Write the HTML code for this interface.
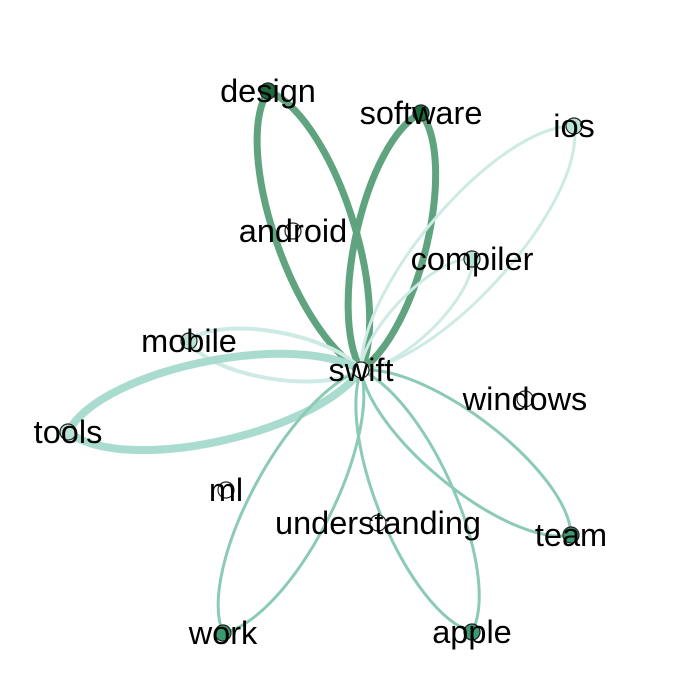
<!DOCTYPE html>
<html><head><meta charset="utf-8"><style>
body{margin:0;background:#fff}
text{font-family:"Liberation Sans",sans-serif;font-size:32.5px;fill:#000;text-anchor:middle;dominant-baseline:central}
</style></head><body>
<svg id="g" width="688" height="689"></svg>
<script>
const nodeNames=["swift","design","software","ios","android","compiler","mobile","tools","windows","ml","understanding","team","work","apple"];
const nodeX=[361,268,421,574,293,472,189,68,525,226,378,571,223,472];
const nodeY=[370,91,113,126,231,259,341,432,399,490,523,535,633,632];
const nodeFill=["#ffffff","#1d6b3c","#1d6b3c","#b8e2d6","#ffffff","#b8e2d6","#b8e2d6","#b8e2d6","#ffffff","#ffffff","#ffffff","#3a9a72","#3a9a72","#3a9a72"];
const edgeTargets=["design","software","ios","compiler","mobile","tools","team","work","apple"];
const edgeWeights=[7,7,3,3,4,8,3,3,3];
const edgeColors=["#5fa37f","#5fa37f","#cdebe4","#cdebe4","#cdebe4","#a9dccf","#8ccbb3","#8ccbb3","#8ccbb3"];
const svg=document.getElementById('g');
const NS='http://www.w3.org/2000/svg';
const s=0;
edgeTargets.forEach((t,i)=>{
  const j=nodeNames.indexOf(t);
  const x1=nodeX[s],y1=nodeY[s],x2=nodeX[j],y2=nodeY[j];
  const dx=x2-x1,dy=y2-y1,L=Math.hypot(dx,dy),px=-dy/L,py=dx/L,o=0.18*L;
  const ax=x1+dx*0.2,ay=y1+dy*0.2,bx=x1+dx*0.85,by=y1+dy*0.85;
  const p=document.createElementNS(NS,'path');
  p.setAttribute('d',`M${x1},${y1} C${ax+px*o},${ay+py*o} ${bx+px*o},${by+py*o} ${x2},${y2} C${bx-px*o},${by-py*o} ${ax-px*o},${ay-py*o} ${x1},${y1}`);
  p.setAttribute('fill','none');p.setAttribute('stroke',edgeColors[i]);p.setAttribute('stroke-width',edgeWeights[i]);
  
  
  svg.appendChild(p);
});
nodeNames.forEach((n,i)=>{
  const c=document.createElementNS(NS,'circle');
  c.setAttribute('cx',nodeX[i]);c.setAttribute('cy',nodeY[i]);c.setAttribute('r',8);
  c.setAttribute('fill',nodeFill[i]);c.setAttribute('stroke','#222');c.setAttribute('stroke-width',1.2);
  
  
  svg.appendChild(c);
});
nodeNames.forEach((n,i)=>{
  const t=document.createElementNS(NS,'text');
  t.setAttribute('x',nodeX[i]);t.setAttribute('y',nodeY[i]);t.textContent=n;
  
  
  svg.appendChild(t);
});
</script>
</body></html>
